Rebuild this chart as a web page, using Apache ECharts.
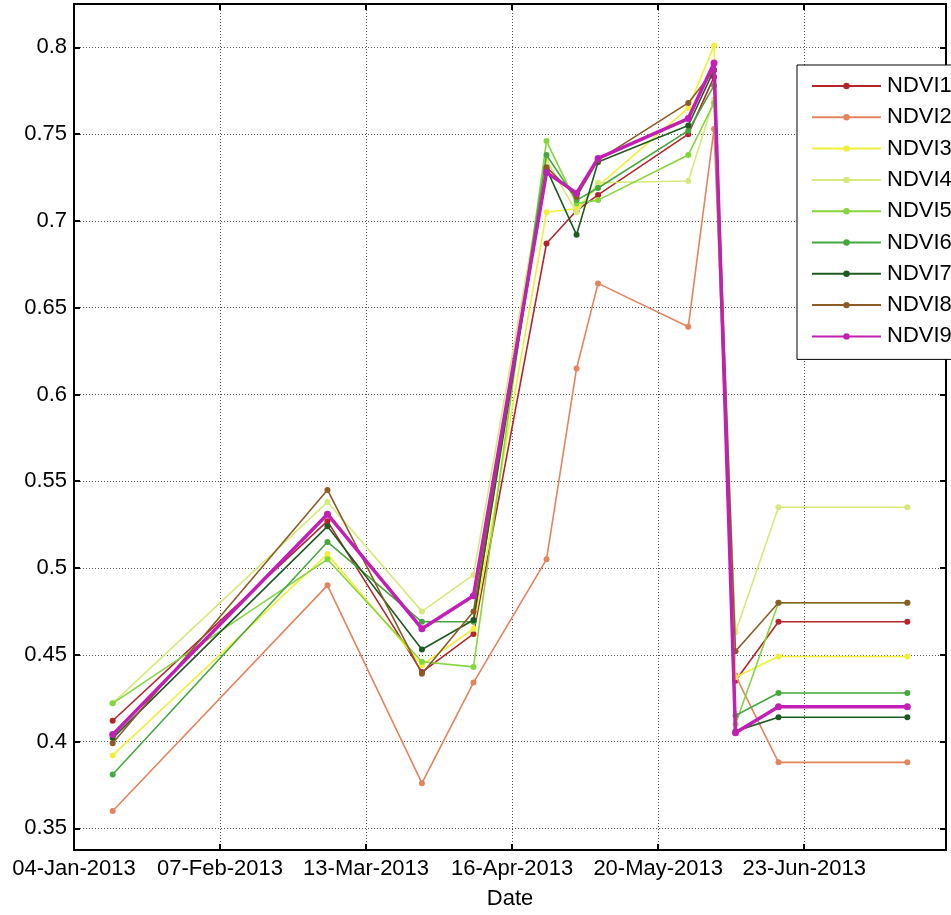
<!DOCTYPE html>
<html>
<head>
<meta charset="utf-8">
<script src="https://cdn.jsdelivr.net/npm/echarts@6/dist/echarts.min.js"></script>
<style>
html,body{margin:0;padding:0;background:#fff;}
#chart{width:951px;height:915px;}
</style>
</head>
<body>
<div id="chart"></div>
<script>
// ---- data ----
const dates = ['2013-01-13','2013-03-04','2013-03-26','2013-04-07','2013-04-24','2013-05-01','2013-05-06','2013-05-27','2013-06-02','2013-06-07','2013-06-17','2013-07-17'];
const seriesNames = ['NDVI1','NDVI2','NDVI3','NDVI4','NDVI5','NDVI6','NDVI7','NDVI8','NDVI9'];
const ndvi1 = [0.412,0.527,0.440,0.462,0.687,0.706,0.715,0.750,0.783,0.435,0.469,0.469];
const ndvi2 = [0.360,0.490,0.376,0.434,0.505,0.615,0.664,0.639,0.753,0.438,0.388,0.388];
const ndvi3 = [0.392,0.508,0.444,0.465,0.705,0.707,0.720,0.765,0.801,0.437,0.449,0.449];
const ndvi4 = [0.422,0.538,0.475,0.496,0.735,0.705,0.722,0.723,0.770,0.463,0.535,0.535];
const ndvi5 = [0.422,0.505,0.446,0.443,0.746,0.710,0.712,0.738,0.768,0.410,0.480,0.480];
const ndvi6 = [0.381,0.515,0.469,0.469,0.738,0.712,0.719,0.752,0.778,0.415,0.428,0.428];
const ndvi7 = [0.402,0.524,0.453,0.470,0.730,0.692,0.734,0.755,0.787,0.406,0.414,0.414];
const ndvi8 = [0.399,0.545,0.439,0.475,0.731,0.714,0.735,0.768,0.787,0.452,0.480,0.480];
const ndvi9 = [0.404,0.531,0.465,0.484,0.728,0.716,0.736,0.759,0.791,0.405,0.420,0.420];
const xTickDates = ['2013-01-04','2013-02-07','2013-03-13','2013-04-16','2013-05-20','2013-06-23'];
const yTickValues = [0.35,0.4,0.45,0.5,0.55,0.6,0.65,0.7,0.75,0.8];
const xStartDate = '2013-01-04';
const xEndDate = '2013-07-26';
const yMin = 0.3375, yMax = 0.825;

// ---- styles ----
const colors = ['#b5252b','#e3845f','#f0f03c','#d5ea7a','#83d63c','#44a83e','#1d5b22','#8c5b26','#c21fb5'];
const FONT = 'Liberation Sans, Arial, sans-serif';
const FS = 22;

const DAY = 86400000;
const t0 = Date.parse(xStartDate + 'T00:00:00Z');
const toDay = s => Math.round((Date.parse(s + 'T00:00:00Z') - t0) / DAY);
const MONTHS = ['Jan','Feb','Mar','Apr','May','Jun','Jul','Aug','Sep','Oct','Nov','Dec'];
const fmtDay = d => {
  const dt = new Date(t0 + d * DAY);
  const dd = String(dt.getUTCDate()).padStart(2,'0');
  return dd + '-' + MONTHS[dt.getUTCMonth()] + '-' + dt.getUTCFullYear();
};
const xDays = dates.map(toDay);
const xTicks = xTickDates.map(toDay);
const xMax = toDay(xEndDate);

const allVals = [ndvi1,ndvi2,ndvi3,ndvi4,ndvi5,ndvi6,ndvi7,ndvi8,ndvi9];

const axisLineStyle = {color:'#000', width:2};
const gridLine = {show:true, lineStyle:{color:'#555', type:[1,2], width:1}};

const series = seriesNames.map((n,i) => ({
  name: n,
  type: 'line',
  data: xDays.map((x,j) => [x, allVals[i][j]]),
  symbol: 'circle',
  symbolSize: i === 8 ? 7 : 6,
  color: colors[i],
  lineStyle: {width: i === 8 ? 3.5 : 1.6, color: colors[i]},
  itemStyle: {color: colors[i]},
  emphasis: {disabled: true},
  animation: false,
  z: 2 + i
}));

const chart = echarts.init(document.getElementById('chart'), null, {renderer:'canvas'});
chart.setOption({
  backgroundColor: '#fff',
  animation: false,
  grid: {left: 74, right: 5, top: 4, bottom: 60, containLabel: false},
  legend: {
    orient: 'vertical',
    left: 797, top: 65,
    padding: [10, 10, 12, 14],
    itemWidth: 69, itemHeight: 8, itemGap: 9.3,
    backgroundColor: '#fff',
    borderColor: '#000', borderWidth: 1,
    textStyle: {fontFamily: FONT, fontSize: FS, color: '#000', lineHeight: 21, padding:[0,0,0,1]},
    data: seriesNames,
    z: 20
  },
  xAxis: [{
    type: 'value', min: 0, max: xMax,
    position: 'bottom',
    axisLine: {show: true, onZero: false, lineStyle: axisLineStyle},
    axisTick: {show: true, inside: true, length: 6, lineStyle: {width: 2, color:'#000'}, customValues: xTicks},
    axisLabel: {show: true, customValues: xTicks, formatter: v => fmtDay(v), fontFamily: FONT, fontSize: FS, color: '#000', margin: 8},
    splitLine: gridLine,
    name: 'Date', nameLocation: 'middle', nameGap: 38,
    nameTextStyle: {fontFamily: FONT, fontSize: FS, color: '#000'}
  },{
    type: 'value', min: 0, max: xMax,
    position: 'top',
    axisLine: {show: true, onZero: false, lineStyle: axisLineStyle},
    axisTick: {show: true, inside: true, length: 6, lineStyle: {width: 2, color:'#000'}, customValues: xTicks},
    axisLabel: {show: false},
    splitLine: {show: false}
  }],
  yAxis: [{
    type: 'value', min: yMin, max: yMax,
    position: 'left',
    axisLine: {show: true, onZero: false, lineStyle: axisLineStyle},
    axisTick: {show: true, inside: true, length: 6, lineStyle: {width: 2, color:'#000'}, customValues: yTickValues},
    axisLabel: {show: true, customValues: yTickValues, formatter: v => String(+v.toFixed(2)), fontFamily: FONT, fontSize: FS, color: '#000', margin: 7},
    splitLine: gridLine
  },{
    type: 'value', min: yMin, max: yMax,
    position: 'right',
    axisLine: {show: true, onZero: false, lineStyle: axisLineStyle},
    axisTick: {show: true, inside: true, length: 6, lineStyle: {width: 2, color:'#000'}, customValues: yTickValues},
    axisLabel: {show: false},
    splitLine: {show: false}
  }],
  series: series
});
</script>
</body>
</html>
